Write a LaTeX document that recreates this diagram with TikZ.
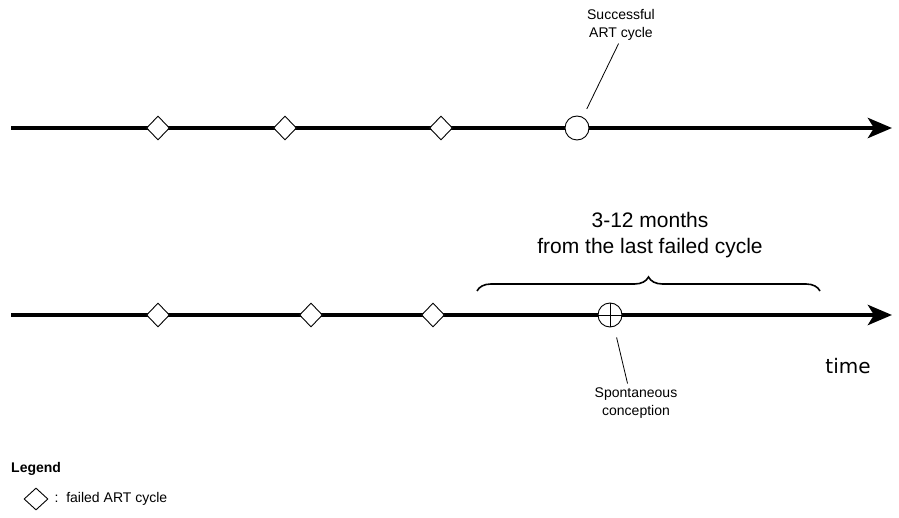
\documentclass[tikz,border=0pt]{standalone}
\usepackage{fontspec}
\setmainfont{Liberation Sans}
\newfontfamily\timefont{DejaVu Sans}
\usetikzlibrary{shapes.geometric,arrows.meta,decorations.pathreplacing,positioning}

\begin{document}
\begin{tikzpicture}[x=1pt,y=-1pt,
    timeline/.style={line width=4.5pt,-{Stealth[length=24pt,width=20pt,inset=6pt]}},
    failed/.style={diamond,draw,fill=white,inner sep=0pt,minimum width=23pt,
      minimum height=24pt,line width=0.9pt},
    cycle/.style={circle,draw,fill=white,inner sep=0pt,minimum size=24pt,line width=0.9pt},
    lbl/.style={align=center,inner sep=2pt,font=\fontsize{14}{18}\selectfont},
    leader/.style={line width=0.8pt}]
    \useasboundingbox (0,0) rectangle (899,518);

    % upper time line
    \coordinate (s1) at (11,128);
    \coordinate (e1) at (892,128);
    \draw[timeline] (s1) -- (e1);
    \node[failed] (f11) at (158,128) {};
    \node[failed] (f12) at (285,128) {};
    \node[failed] (f13) at (441,128) {};
    \node[cycle] (ok) at (577,128) {};
    \node[lbl] (oklbl) at (621,25) {Successful\\ART cycle};
    \draw[leader,shorten <=9pt,shorten >=1pt] (ok.62) -- ([xshift=-2pt]oklbl.south);

    % lower time line
    \coordinate (s2) at (11,315);
    \coordinate (e2) at (892,315);
    \draw[timeline] (s2) -- (e2);
    \node[failed] (f21) at (158,315) {};
    \node[failed] (f22) at (311,315) {};
    \node[failed] (f23) at (433,315) {};
    \node[cycle] (sp) at (610,315) {};
    \draw[line width=0.9pt] (sp.north) -- (sp.south) (sp.west) -- (sp.east);
    \node[lbl] (splbl) at (636,403) {Spontaneous\\conception};
    \draw[leader,shorten <=11pt,shorten >=2pt] (sp.-71) -- ([xshift=-8pt]splbl.north);
    \node[font=\timefont\fontsize{20}{24}\selectfont] (time) at (848,366) {time};

    % time window
    \coordinate (brl) at (477,291);
    \coordinate (brr) at (820,291);
    \draw[line width=1.6pt,decorate,decoration={brace,amplitude=14pt}] (brl) -- (brr);
    \node[align=center,font=\fontsize{21}{26}\selectfont] (win) at (650,235)
      {3-12 months\\from the last failed cycle};

    % legend
    \node[anchor=west,inner sep=0pt,font=\bfseries\fontsize{14}{16}\selectfont]
      (leg) at (11,469) {Legend};
    \node[failed,minimum width=24pt,minimum height=22pt] (legf) at (36,499) {};
    \node[anchor=west,inner sep=0pt,font=\fontsize{14}{16}\selectfont,right=6pt of legf]
      (legt) {:\ \ failed ART cycle};
\end{tikzpicture}
\end{document}
